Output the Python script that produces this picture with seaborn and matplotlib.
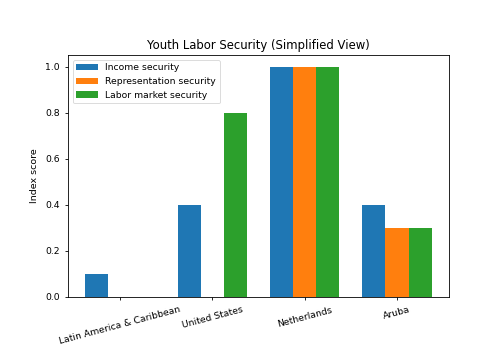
import matplotlib
matplotlib.use("Agg")
import matplotlib.pyplot as plt
import seaborn as sns
import pandas as pd

regions = ["Latin America & Caribbean", "United States", "Netherlands", "Aruba"]
series_names = ["Income security", "Representation security", "Labor market security"]
income = [0.1, 0.4, 1.0, 0.4]
representation = [0.0, 0.0, 1.0, 0.3]
labor_market = [0.0, 0.8, 1.0, 0.3]

rows = []
for name, vals in zip(series_names, [income, representation, labor_market]):
    for r, v in zip(regions, vals):
        rows.append({"Region": r, "Series": name, "Value": v})
df = pd.DataFrame(rows)

sns.set_style("ticks")
plt.rcParams['font.family'] = ['DejaVu Sans']
plt.rcParams['text.color'] = 'black'
plt.rcParams['xtick.color'] = 'black'
plt.rcParams['ytick.color'] = 'black'
plt.rcParams['axes.labelcolor'] = 'black'
plt.rcParams['axes.edgecolor'] = 'black'

fig = plt.figure(figsize=(5.02, 3.56), dpi=100)
ax = fig.add_axes([68/502, 1 - 297/356, (449-68)/502, (297-55)/356])
palette = ["#1f77b4", "#ff7f0e", "#2ca02c"]
sns.barplot(data=df, x="Region", y="Value", hue="Series", order=regions,
            hue_order=series_names, palette=palette, width=0.75, saturation=1,
            ax=ax, errorbar=None, linewidth=0)
ax.set_xlim(-0.5625, 3.5625)
ax.set_ylim(0, 1.05)
ax.set_xlabel("")
ax.set_ylabel("Index score", fontsize=6.8)
ax.set_title("Youth Labor Security (Simplified View)", fontsize=8.4, pad=4.5)
ax.tick_params(axis='both', labelsize=6.7, length=2.5, width=0.6)
plt.setp(ax.get_xticklabels(), rotation=15, ha='center')
for s in ax.spines.values():
    s.set_visible(True)
    s.set_linewidth(0.6)
leg = ax.legend(loc="upper left", fontsize=6.7, frameon=True, handlelength=2.3)
leg.get_frame().set_linewidth(0.6)
fig.savefig("out.png", dpi=100)
